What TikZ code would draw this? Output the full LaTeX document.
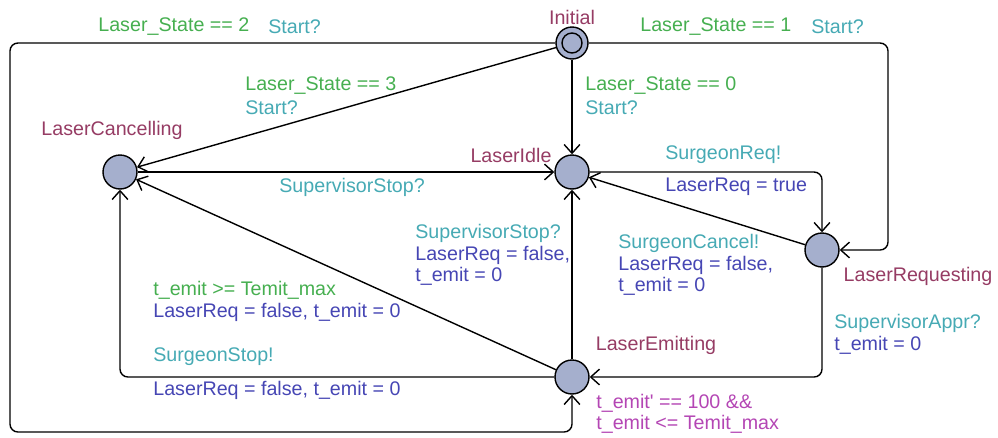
\documentclass[tikz,border=0pt]{standalone}
\usepackage{fontspec}
\setmainfont{Liberation Sans}
\usetikzlibrary{arrows.meta}

\definecolor{locname}{RGB}{150,60,100}
\definecolor{locfill}{RGB}{165,175,205}
\definecolor{guardcol}{RGB}{70,175,80}
\definecolor{synccol}{RGB}{70,170,180}
\definecolor{updcol}{RGB}{70,70,180}
\definecolor{invcol}{RGB}{180,70,180}

\begin{document}
\begin{tikzpicture}[x=0.02cm, y=-0.02cm,
  every node/.style={font=\fontsize{11.2}{12}\selectfont, inner sep=0pt},
  loc/.style={circle, draw=black, fill=locfill, line width=0.8pt, minimum size=0.68cm},
  locname/.style={text=locname},
  guard/.style={text=guardcol, anchor=west},
  sync/.style={text=synccol, anchor=west},
  upd/.style={text=updcol, anchor=west, align=left},
  inv/.style={text=invcol, anchor=west, align=left},
  trans/.style={draw, line width=0.8pt, rounded corners=4.5pt, -{Straight Barb[length=5pt,width=9pt]}}]
  \useasboundingbox (0,0) rectangle (998,437);

  % locations
  \node[loc, minimum size=0.64cm] (init) at (572,43) {};
  \node[loc, minimum size=0.4cm] (initmark) at (init) {};
  \node[loc] (cancel) at (120,172) {};
  \node[loc] (idle) at (572,172) {};
  \node[loc] (req) at (822,250) {};
  \node[loc] (emit) at (572,377) {};

  \node[locname] (init_name) at (572,17) {Initial};
  \node[locname] (cancel_name) at (112,130) {LaserCancelling};
  \node[locname] (idle_name) at (511,155) {LaserIdle};
  \node[locname] (req_name) at (918,276) {LaserRequesting};
  \node[locname] (emit_name) at (656,345) {LaserEmitting};

  % edges
  \path[trans] (init) -- (888,43) -- (888,250) -- (req);
  \path[trans] (init) -- (10,43) -- (10,432) -- (572,432) -- (emit);
  \path[trans] (init) -- (cancel);
  \path[trans] (init) -- (idle);
  \path[trans] (cancel) -- (idle);
  \path[trans] (idle) -- (822,172) -- (req);
  \path[trans] (req) -- (idle);
  \path[trans] (req) -- (822,377) -- (emit);
  \path[trans] (emit) -- (idle);
  \path[trans] (emit) -- (cancel);
  \path[trans] (emit) -- (120,377) -- (cancel);

  % labels
  \node[guard] (g_two) at (98,27) {Laser\_State == 2};
  \node[sync] (s_two) at (268,27) {Start?};
  \node[guard] (g_one) at (640,27) {Laser\_State == 1};
  \node[sync] (s_one) at (811,27) {Start?};
  \node[guard] (g_three) at (245,86) {Laser\_State == 3};
  \node[sync] (s_three) at (245,108) {Start?};
  \node[guard] (g_zero) at (585,86) {Laser\_State == 0};
  \node[sync] (s_zero) at (585,108) {Start?};

  \node[sync] (s_cancelstop) at (279,187) {SupervisorStop?};
  \node[sync] (s_sreq) at (665,155) {SurgeonReq!};
  \node[upd] (u_sreq) at (665,187) {LaserReq = true};
  \node[sync] (s_scancel) at (618,243) {SurgeonCancel!};
  \node[upd, anchor=north west] (u_scancel) at (618,256) {LaserReq = false,\\t\_emit = 0};
  \node[sync] (s_appr) at (834,323) {SupervisorAppr?};
  \node[upd] (u_appr) at (834,345) {t\_emit = 0};
  \node[sync] (s_emitstop) at (415,233) {SupervisorStop?};
  \node[upd, anchor=north west] (u_emitstop) at (415,246) {LaserReq = false,\\t\_emit = 0};
  \node[guard] (g_timeout) at (153,290) {t\_emit >= Temit\_max};
  \node[upd] (u_timeout) at (153,312) {LaserReq = false, t\_emit = 0};
  \node[sync] (s_sstop) at (153,357) {SurgeonStop!};
  \node[upd] (u_sstop) at (153,390) {LaserReq = false, t\_emit = 0};

  \node[inv, anchor=north west] (emit_inv) at (596,394) {t\_emit\textquotesingle{} == 100 \&\&\\t\_emit <= Temit\_max};
\end{tikzpicture}
\end{document}
